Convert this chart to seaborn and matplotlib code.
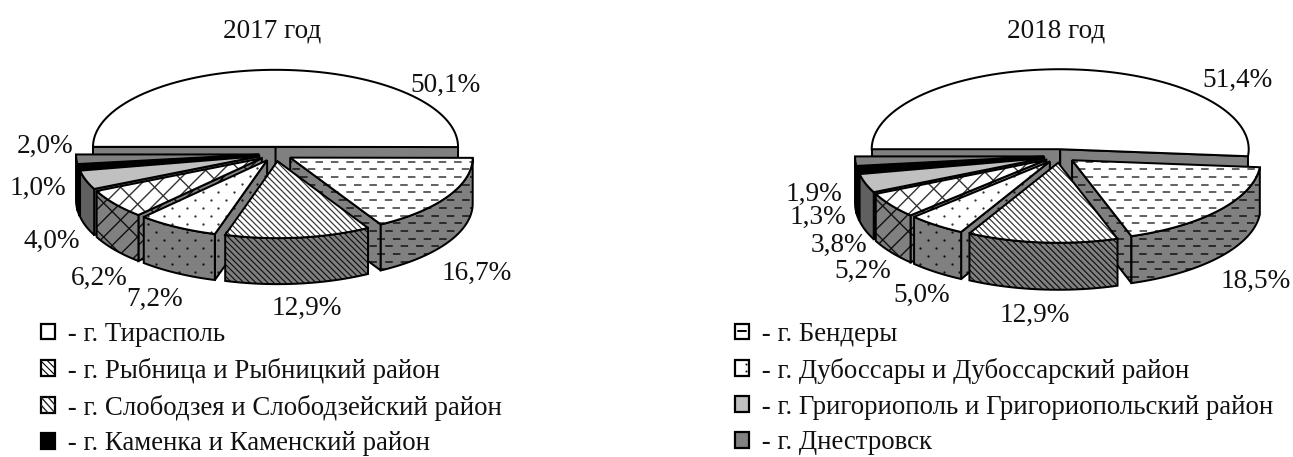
import numpy as np
import matplotlib
matplotlib.use("Agg")
import matplotlib.pyplot as plt
import seaborn as sns
from matplotlib.patches import Polygon, Patch, Rectangle
from matplotlib.legend_handler import HandlerBase
from matplotlib.lines import Line2D

regions = ["г. Тирасполь", "г. Бендеры", "г. Рыбница и Рыбницкий район",
           "г. Дубоссары и Дубоссарский район", "г. Слободзея и Слободзейский район",
           "г. Григориополь и Григориопольский район", "г. Каменка и Каменский район",
           "г. Днестровск"]
values_2017 = [50.1, 16.7, 12.9, 7.2, 6.2, 4.0, 1.0, 2.0]
values_2018 = [51.4, 18.5, 12.9, 5.0, 5.2, 3.8, 1.3, 1.9]
title_2017 = "2017 год"
title_2018 = "2018 год"
legend_left = [0, 2, 4, 6]
legend_right = [1, 3, 5, 7]

# label centres in pixel coordinates
labels_2017 = [(445, 85), (477, 273), (307, 308), (155, 299), (99, 278), (52, 241), (38, 188), (45, 146)]
labels_2018 = [(1237, 80), (1256, 281), (1035, 315), (922, 295), (863, 271), (839, 245), (818, 217), (814, 194)]

top_col = ["white", "white", "white", "white", "white", "#c0c0c0", "black", "#808080"]
wall_col = ["#808080", "#808080", "#808080", "#808080", "#808080", "#606060", "black", "#404040"]
pattern = [None, "dash", "diag", "dots", "brick", None, None, None]

sns.set_theme(style="white")
plt.rcParams["font.family"] = ["Liberation Serif", "DejaVu Serif"]
plt.rcParams["hatch.linewidth"] = 0.8
plt.rcParams["lines.scale_dashes"] = False

PX = 0.72  # points per pixel at 100 dpi

fig = plt.figure(figsize=(12.93, 4.57), dpi=100)
ax = fig.add_axes([0, 0, 1, 1])
ax.set_xlim(0, 1293)
ax.set_ylim(457, 0)
ax.axis("off")


def fill_pattern(poly, kind, col="black", z=0):
    x0, y0 = poly.get_xy().min(axis=0)
    x1, y1 = poly.get_xy().max(axis=0)
    arts = []
    if kind == "dash":
        ys = np.arange(y0 - (y0 % 7.7), y1 + 8, 7.7)
        for k, y in enumerate(ys):
            arts += ax.plot([x0, x1], [y, y], color=col, lw=1.5 * PX, zorder=z,
                            ls=((x0 % 15.4 + (7.7 if k % 2 else 0)) * PX, (7.5 * PX, 7.9 * PX)),
                            dash_capstyle="butt")
    elif kind == "dots":
        ys = np.arange(y0 - (y0 % 8), y1 + 8, 8)
        for k, y in enumerate(ys):
            xs = np.arange(x0 - (x0 % 15.6) + (7.8 if k % 2 else 0), x1 + 16, 15.6)
            arts += ax.plot(xs, np.full_like(xs, y), ls="", marker="o", ms=2.3 * PX, mew=0,
                            color=col, zorder=z)
    elif kind == "diag":
        h = y1 - y0
        for c in np.arange(x0 - h - 8, x1 + 8, 6.0):
            arts += ax.plot([c, c + h + 8], [y0 - 4, y1 + 4], color=col, lw=1.2 * PX, zorder=z)
    elif kind == "brick":
        h = y1 - y0
        step = 17.0
        lines = np.arange(x0 - 10, x1 + h + 30, step)
        for c in lines:
            arts += ax.plot([c, c - h - 30], [y0 - 5, y1 + 25], color=col, lw=1.4 * PX, zorder=z)
        for k, c in enumerate(lines):
            for t in np.arange(-(8.5 if k % 2 else 0), h + 30, 17.0):
                px, py = c - t, y0 - 5 + t
                arts += ax.plot([px, px + step / 2], [py, py + step / 2], color=col,
                                lw=1.4 * PX, zorder=z)
    for a in arts:
        a.set_clip_path(poly)


def pie3d(vals, cx, cy, rx, ry, d, depth, z0):
    fr = np.cumsum([0] + list(vals)) / sum(vals) * 2 * np.pi
    starts = np.pi - fr[:-1]          # clockwise from the left
    ends = np.pi - fr[1:]
    mids = (starts + ends) / 2
    order = np.argsort(-np.sin(mids))
    z = z0

    def add(pts, face, kind, pc):
        nonlocal z
        z += 3
        p = Polygon(pts, closed=True, facecolor=face, edgecolor="none", zorder=z)
        ax.add_patch(p)
        if kind:
            fill_pattern(p, kind, pc, z + 1)
        ax.add_patch(Polygon(pts, closed=True, fill=False, edgecolor="black", lw=2.0 * PX,
                             joinstyle="miter", zorder=z + 2))

    for i in order:
        ax0 = cx + d * np.cos(mids[i])
        ay0 = cy - d * ry / rx * np.sin(mids[i])
        t = np.linspace(starts[i], ends[i], max(int(abs(ends[i] - starts[i]) * 40), 4))
        ex = ax0 + rx * np.cos(t)
        ey = ay0 - ry * np.sin(t)
        apex = (ax0, ay0)
        rim = np.column_stack([ex, ey])
        walls = []
        if np.cos(starts[i]) < 0:
            walls.append(rim[0])
        if np.cos(ends[i]) > 0:
            walls.append(rim[-1])
        for w in walls:
            add([apex, tuple(w), (w[0], w[1] + depth), (ax0, ay0 + depth)], wall_col[i], pattern[i], "#111111")
        lo = rim[ey >= ay0 - 0.01]
        if i and len(lo) > 1:
            low = np.vstack([lo, (lo + [0, depth])[::-1]])
            add(low, wall_col[i], pattern[i], "#111111")
        add(np.vstack([[apex], rim]), top_col[i], pattern[i], "#333333")


pie3d(values_2017, 275.5, 154, 182.5, 77, 17, 46, 2)
pie3d(values_2018, 1059.5, 156, 188.5, 80, 16, 47, 200)

for vals, pos in ((values_2017, labels_2017), (values_2018, labels_2018)):
    for v, (x, y) in zip(vals, pos):
        ax.text(x, y, f"{v:.1f}%".replace(".", ","), ha="center", va="center", fontsize=19.6,
                color="#111111", zorder=500)

ax.text(272.5, 31, title_2017, ha="center", va="center", fontsize=19.6, color="#111111")
ax.text(1056, 31, title_2018, ha="center", va="center", fontsize=19.6, color="#111111")


class KeyHandler(HandlerBase):
    def create_artists(self, legend, orig, xd, yd, w, h, fs, trans):
        i = orig.region
        r = Rectangle((-xd, -yd), w, h, facecolor=top_col[i],
                      edgecolor="black", lw=1.6, transform=trans)
        out = [r]
        mx, my = -xd + w / 2, -yd + h / 2
        if pattern[i] == "diag":
            r.set_hatch("\\\\\\\\\\")
        elif pattern[i] == "brick":
            out.append(Line2D([-xd, -xd + w], [-yd + h, -yd], color="#222222", lw=1.0, transform=trans))
            out.append(Line2D([-xd, -xd + w / 2], [-yd + h / 2, -yd], color="#222222", lw=1.0, transform=trans))
            out.append(Line2D([-xd + w / 2, -xd + w], [-yd + h, -yd + h / 2], color="#222222", lw=1.0, transform=trans))
        elif pattern[i] == "dash":
            out.append(Line2D([mx - 3, mx + 3], [my, my], color="black", lw=1.4, transform=trans))
        elif pattern[i] == "dots":
            out.append(Line2D([mx + 3, mx + 3], [my + 3, my - 2], ls="", marker="s", ms=1.3, mew=0,
                              color="black", transform=trans))
        return out


def make_legend(idx, x, y):
    hs = []
    for i in idx:
        p = Patch(label=" - " + regions[i])
        p.region = i
        hs.append(p)
    return ax.legend(handles=hs, handler_map={Patch: KeyHandler()}, loc="upper left",
                     bbox_to_anchor=(x, y), bbox_transform=ax.transData, frameon=False,
                     fontsize=19.4, borderpad=0, borderaxespad=0, handlelength=0.52,
                     handleheight=0.52, handletextpad=0.22, labelspacing=0.40, labelcolor="#111111")


leg1 = make_legend(legend_left, 41, 322)
ax.add_artist(leg1)
make_legend(legend_right, 735, 322)

fig.savefig("out.png", dpi=100, facecolor="white")
